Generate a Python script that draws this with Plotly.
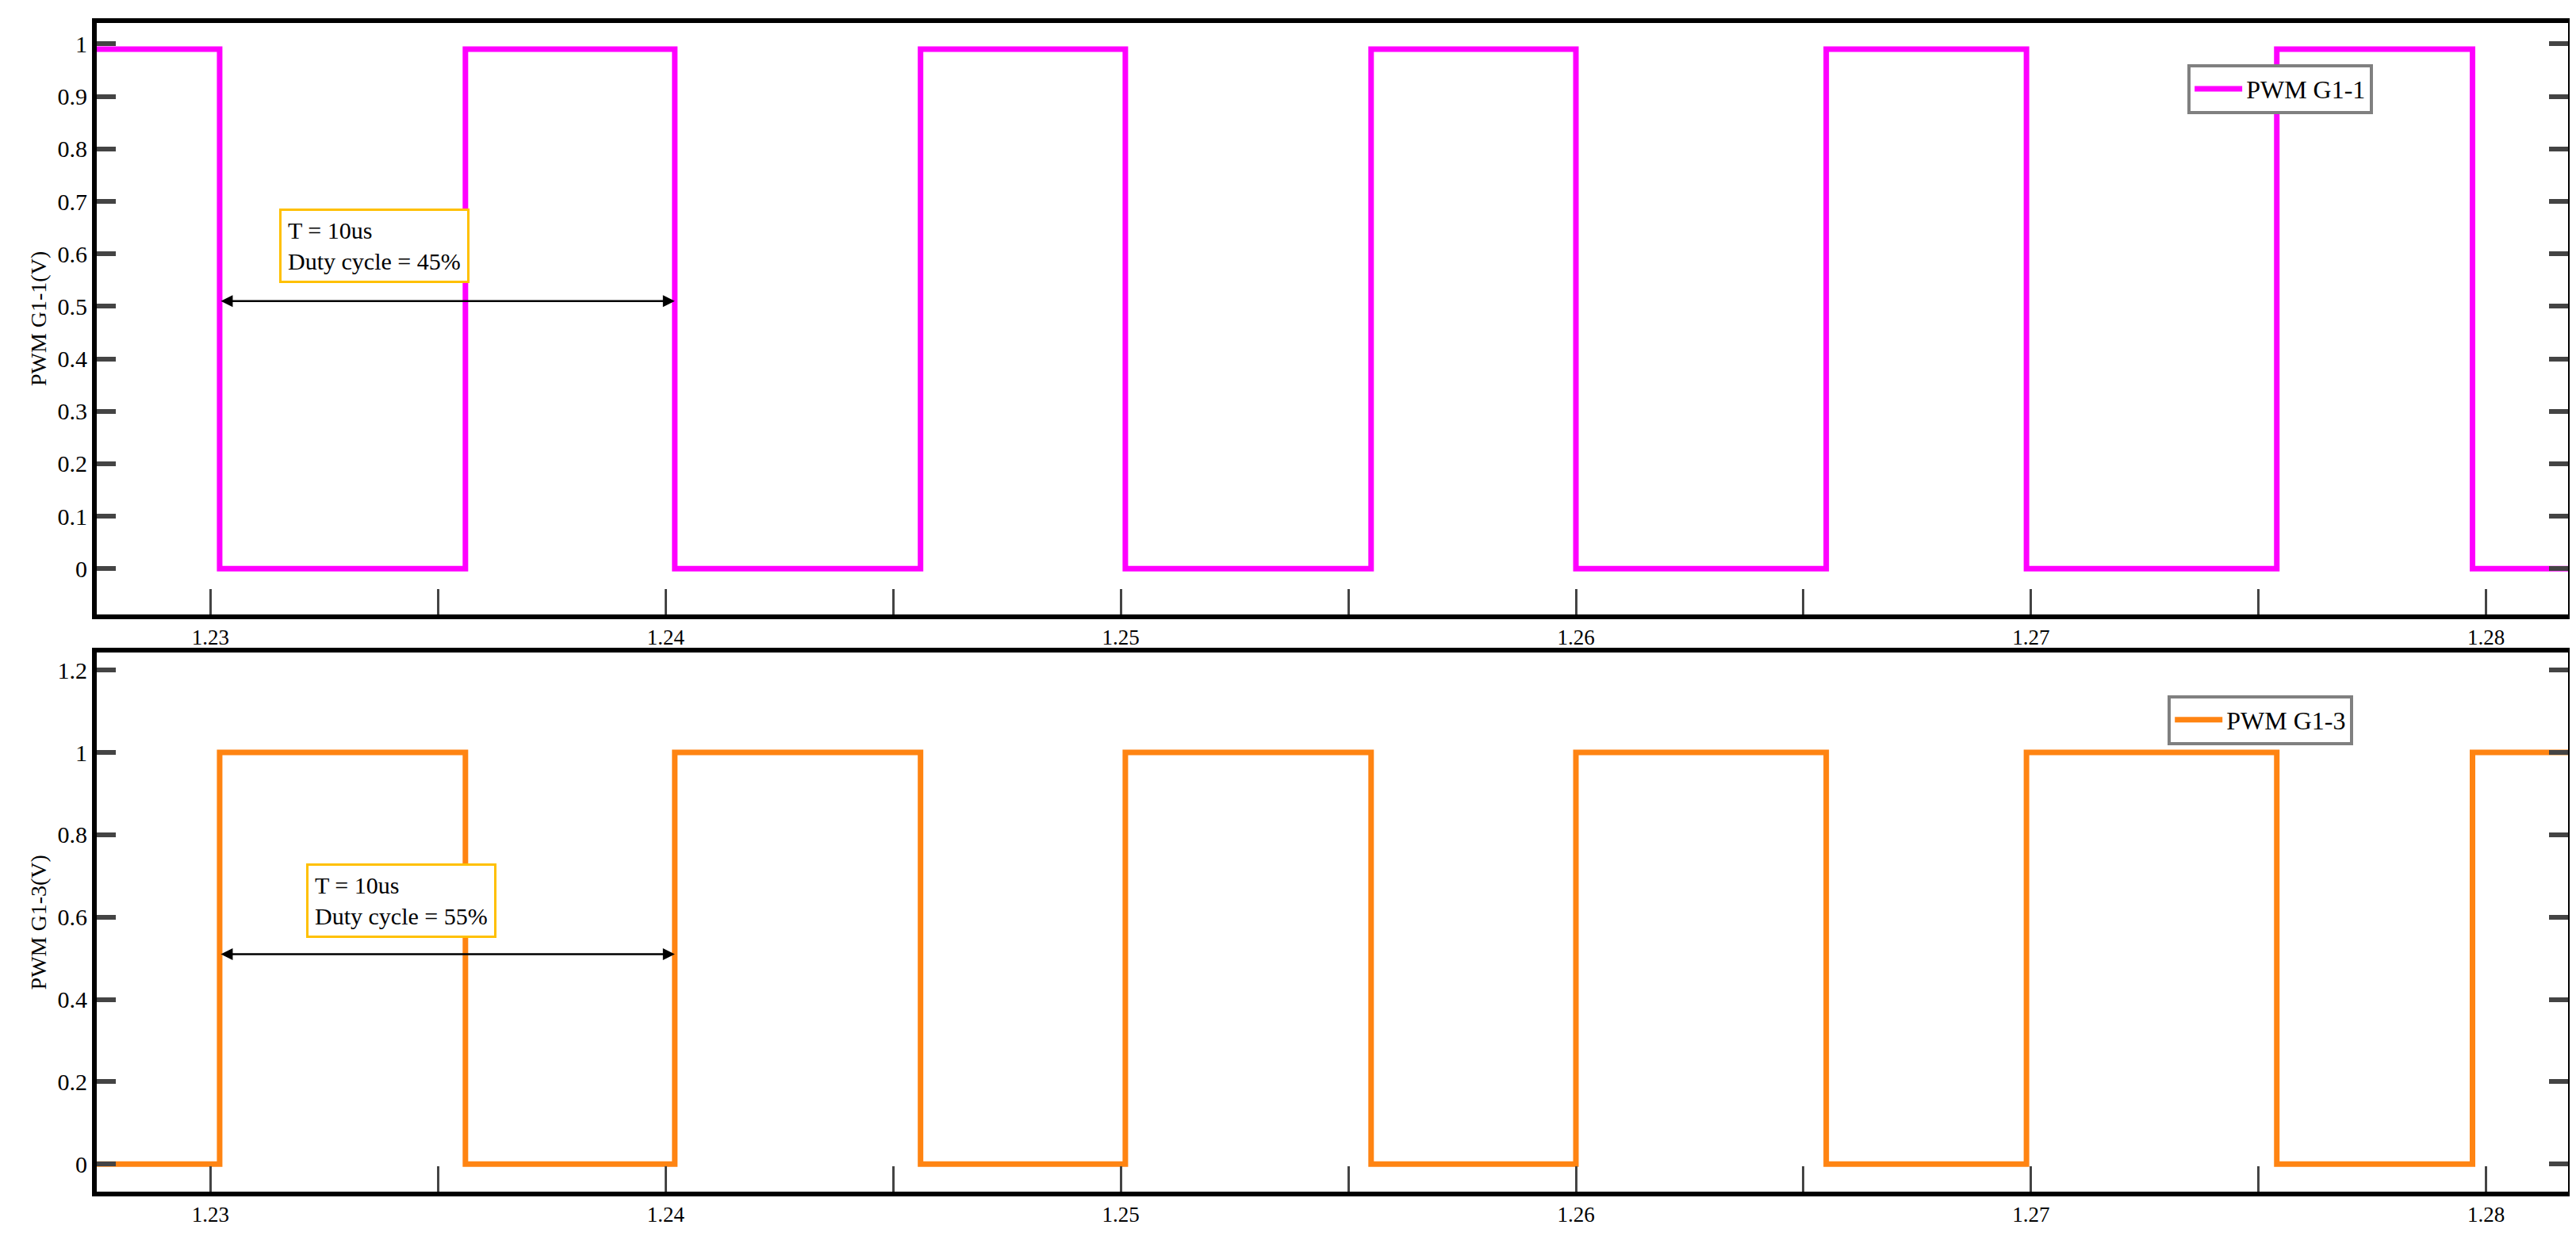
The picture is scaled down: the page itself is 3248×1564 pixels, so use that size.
import plotly.graph_objects as go
from plotly.subplots import make_subplots

t1 = [1.2275, 1.2302, 1.2356, 1.2402, 1.2456, 1.2501, 1.2555, 1.2600, 1.2655, 1.2699, 1.2754, 1.2797, 1.2818]
v1 = [0.99, 0, 0.99, 0, 0.99, 0, 0.99, 0, 0.99, 0, 0.99, 0, 0]
t3 = [1.2275, 1.2302, 1.2356, 1.2402, 1.2456, 1.2501, 1.2555, 1.2600, 1.2655, 1.2699, 1.2754, 1.2797, 1.2818]
v3 = [0, 1, 0, 1, 0, 1, 0, 1, 0, 1, 0, 1, 1]
xticks = [1.23, 1.24, 1.25, 1.26, 1.27, 1.28]

FONT = "Liberation Serif"
fig = make_subplots(rows=2, cols=1, vertical_spacing=0.03)
fig.add_trace(go.Scatter(x=t1, y=v1, mode="lines", line=dict(color="#FF00FF", width=7, shape="hv"),
                         name="PWM G1-1", legend="legend", showlegend=True), row=1, col=1)
fig.add_trace(go.Scatter(x=t3, y=v3, mode="lines", line=dict(color="#FF8412", width=7, shape="hv"),
                         name="PWM G1-3", legend="legend2", showlegend=True), row=2, col=1)

xax = dict(range=[1.2275, 1.2818], tickvals=xticks, ticktext=[str(v) for v in xticks],
           ticks="inside", ticklen=32, tickwidth=3, showline=True, linewidth=6, linecolor="black",
           mirror=True, showgrid=False, zeroline=False, ticklabelstandoff=0,
           minor=dict(dtick=0.005, tick0=1.23, ticks="inside", ticklen=32, tickwidth=3),
           tickfont=dict(family=FONT, size=27, color="black"))
fig.update_layout(xaxis=dict(xax, domain=[0, 1]), xaxis2=dict(xax, domain=[0, 1]))
fig.update_layout(
    yaxis=dict(domain=[0.494, 1], range=[-0.087, 1.04], dtick=0.1, tick0=0),
    yaxis2=dict(domain=[0, 0.461], range=[-0.067, 1.242], dtick=0.2, tick0=0))
for ya, lab in (("yaxis", "PWM G1-1(V)"), ("yaxis2", "PWM G1-3(V)")):
    fig.layout[ya].update(ticks="inside", ticklen=24, tickwidth=6, showline=True, linewidth=6,
                          linecolor="black", mirror="ticks", showgrid=False, zeroline=False,
                          tickfont=dict(family=FONT, size=30, color="black"),
                          title=dict(text=lab, font=dict(family=FONT, size=28, color="black"), standoff=8))

arrow = dict(showarrow=True, arrowhead=2, arrowside="end+start", arrowsize=1.2, arrowwidth=2.5,
             arrowcolor="black", text="")
fig.add_annotation(x=1.2402, y=0.51, ax=1.2302, ay=0.51, axref="x", ayref="y", xref="x", yref="y", **arrow)
fig.add_annotation(x=1.2402, y=0.51, ax=1.2302, ay=0.51, axref="x2", ayref="y2", xref="x2", yref="y2", **arrow)
box = dict(showarrow=False, xanchor="left", yanchor="middle", align="left", bordercolor="#FFC000",
           borderwidth=3, borderpad=8, bgcolor="white", font=dict(family=FONT, size=30, color="black"))
fig.add_annotation(x=1.2315, y=0.615, xref="x", yref="y", text="T = 10us<br>Duty cycle = 45%", **box)
fig.add_annotation(x=1.2321, y=0.64, xref="x2", yref="y2", text="T = 10us<br>Duty cycle = 55%", **box)

leg = dict(bgcolor="white", bordercolor="#808080", borderwidth=4, xanchor="left", yanchor="top",
           font=dict(family=FONT, size=32, color="black"), itemwidth=60)
fig.update_layout(
    showlegend=True,
    legend=dict(leg, x=0.846, y=0.965, xref="paper", yref="paper"),
    legend2=dict(leg, x=0.838, y=0.425, xref="paper", yref="paper"),
    width=3248, height=1564, margin=dict(l=114, r=18, t=21, b=69),
    plot_bgcolor="white", paper_bgcolor="white")
fig.write_html("out.html")
